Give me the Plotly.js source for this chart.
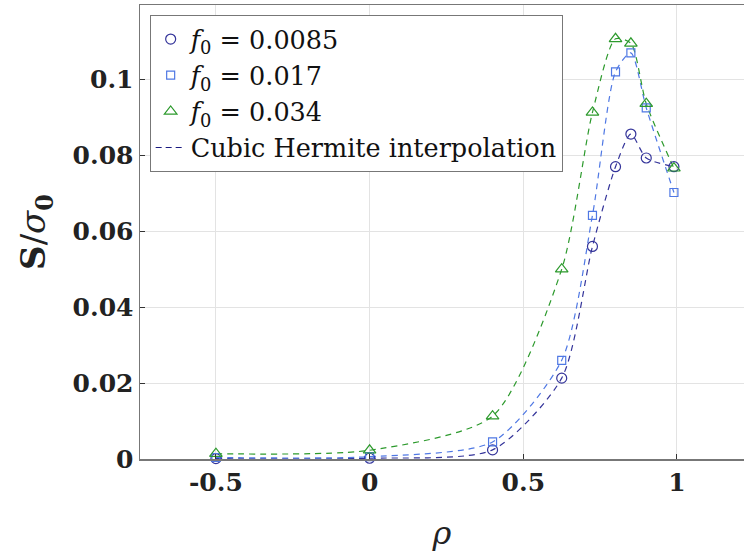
<!DOCTYPE html>
<html>
<head>
<meta charset="utf-8">
<script src="https://cdn.plot.ly/plotly-3.0.1.min.js"></script>
<style>html,body{margin:0;padding:0;background:#fff;}#plot{width:744px;height:556px;}</style>
</head>
<body>
<div id="plot"></div>
<script>
const rho = [-0.5, 0, 0.4, 0.625, 0.725, 0.8, 0.85, 0.9, 0.99];
const s_f0085 = [0.0001, 0.0002, 0.0024, 0.0213, 0.0560, 0.0770, 0.0856, 0.0793, 0.0770];
const s_f017  = [0.0004, 0.0006, 0.0045, 0.0260, 0.0642, 0.1020, 0.1070, 0.0925, 0.0702];
const s_f034  = [0.0014, 0.0023, 0.0113, 0.0500, 0.0913, 0.1107, 0.1095, 0.0936, 0.0766];
const seriesNames = ['<i>f</i><sub>0</sub> = 0.0085', '<i>f</i><sub>0</sub> = 0.017', '<i>f</i><sub>0</sub> = 0.034'];
const xTicks = [-0.5, 0, 0.5, 1];
const xTickText = ['-0.5', '0', '0.5', '1'];
const yTicks = [0, 0.02, 0.04, 0.06, 0.08, 0.1];
const yTickText = ['0', '0.02', '0.04', '0.06', '0.08', '0.1'];

const colors = ['#34349a', '#4f78e4', '#2d9a2d'];
const symbols = ['circle-open', 'square-open', 'triangle-up-open'];
const sizes = [10, 8, 11];
const data = [s_f0085, s_f017, s_f034];

const traces = [];
data.forEach((ys, i) => {
  traces.push({
    x: rho, y: ys, type: 'scatter', mode: 'lines',
    line: {color: colors[i], dash: '6px,5px', width: 1.2, shape: 'spline', smoothing: 0.7},
    showlegend: false, hoverinfo: 'skip', cliponaxis: false
  });
});
data.forEach((ys, i) => {
  traces.push({
    x: rho, y: ys, type: 'scatter', mode: 'markers', name: seriesNames[i],
    marker: {symbol: symbols[i], color: colors[i], size: sizes[i], line: {width: 1.2, color: colors[i]}},
    cliponaxis: false
  });
});
traces.push({
  x: [null], y: [null], type: 'scatter', mode: 'lines', name: 'Cubic Hermite interpolation',
  line: {color: '#1a1a80', dash: '6px,4px', width: 1.2}
});

const serif = 'DejaVu Serif, Liberation Serif, serif';
const layout = {
  width: 744, height: 556,
  margin: {l: 140, r: 0, t: 5, b: 97},
  paper_bgcolor: '#fff', plot_bgcolor: '#fff',
  showlegend: true,
  legend: {
    x: 0.016, y: 0.978, xanchor: 'left', yanchor: 'top',
    bgcolor: '#fff', bordercolor: '#777', borderwidth: 1,
    font: {family: serif, size: 25.5, color: '#111'},
    itemwidth: 30, tracegroupgap: 0
  },
  xaxis: {
    range: [-0.747, 1.218],
    tickvals: xTicks, ticktext: xTickText,
    ticks: 'inside', ticklen: 5, tickcolor: '#333',
    showgrid: true, gridcolor: '#e3e3e3', gridwidth: 1,
    zeroline: false, showline: true, linecolor: '#777', linewidth: 1.5, mirror: true,
    tickfont: {family: serif, size: 25, color: '#222', weight: 'bold'},
    title: {text: '<i>ρ</i>', font: {family: serif, size: 32, color: '#222'}, standoff: 26}
  },
  yaxis: {
    range: [0, 0.1196],
    tickvals: yTicks, ticktext: yTickText,
    ticks: 'inside', ticklen: 5, tickcolor: '#333',
    showgrid: true, gridcolor: '#e3e3e3', gridwidth: 1,
    zeroline: false, showline: true, linecolor: '#777', linewidth: 1.5, mirror: false,
    tickfont: {family: serif, size: 25, color: '#222', weight: 'bold'},
    title: {text: '<b>S</b>/<i>σ</i><sub><b>0</b></sub>', font: {family: serif, size: 34, color: '#222'}, standoff: 16}
  }
};

Plotly.newPlot('plot', traces, layout, {displayModeBar: false, staticPlot: true});
</script>
</body>
</html>
